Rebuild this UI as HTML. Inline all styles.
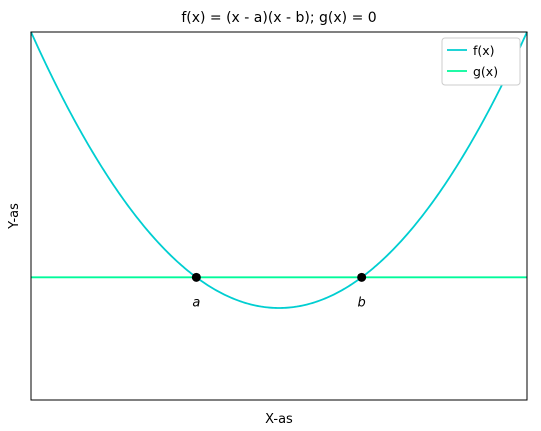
<!DOCTYPE html>
<html><head><meta charset="utf-8"><style>
body{margin:0;background:#fff;}
svg{display:block;font-family:"DejaVu Sans","Liberation Sans",sans-serif;}
</style></head><body>
<svg id="chart" width="541" height="431" viewBox="0 0 541 431" xmlns="http://www.w3.org/2000/svg">
<rect x="0" y="0" width="541" height="431" fill="#fff"/>
<text x="279" y="22" font-size="14" text-anchor="middle">f(x) = (x - a)(x - b); g(x) = 0</text>
<g id="plot"></g>
<rect x="31" y="32" width="496" height="368" fill="none" stroke="#000" stroke-width="1"/>
<text x="279" y="423" font-size="13" text-anchor="middle">X-as</text>
<text x="18" y="216" font-size="13" text-anchor="middle" transform="rotate(-90 18 216)">Y-as</text>
<g>
<rect x="442" y="38" width="78" height="47" rx="3" fill="#fff" stroke="#ccc"/>
<line x1="447" y1="50" x2="467" y2="50" stroke="#00ced1" stroke-width="1.8"/>
<text x="473" y="55" font-size="12.5">f(x)</text>
<line x1="447" y1="71" x2="467" y2="71" stroke="#00fa9a" stroke-width="1.8"/>
<text x="473" y="76" font-size="12.5">g(x)</text>
</g>
</svg>
<script>
const xDomain=[0,6];
const yDomain=[-4,8];
const roots=[2,4];
const rootLabels=["a","b"];
const gValue=[0];
const L=31,R=527,T=32,B=400;
const sx=v=>L+(v-xDomain[0])/(xDomain[1]-xDomain[0])*(R-L);
const sy=v=>B-(v-yDomain[0])/(yDomain[1]-yDomain[0])*(B-T);
const ns="http://www.w3.org/2000/svg";
const g=document.getElementById('plot');
function f(x){return (x-roots[0])*(x-roots[1]);}
let d="";
for(let i=0;i<=300;i++){const x=xDomain[0]+(xDomain[1]-xDomain[0])*i/300;d+=(i?"L":"M")+sx(x).toFixed(2)+","+sy(f(x)).toFixed(2);}
const p=document.createElementNS(ns,'path');


p.setAttribute('d',d);p.setAttribute('fill','none');p.setAttribute('stroke','#00ced1');p.setAttribute('stroke-width','1.8');
g.appendChild(p);
const ln=document.createElementNS(ns,'line');


ln.setAttribute('x1',sx(xDomain[0]));ln.setAttribute('x2',sx(xDomain[1]));
ln.setAttribute('y1',sy(gValue[0]));ln.setAttribute('y2',sy(gValue[0]));
ln.setAttribute('stroke','#00fa9a');ln.setAttribute('stroke-width','1.8');
g.appendChild(ln);
roots.forEach((r,i)=>{
 const c=document.createElementNS(ns,'circle');
 
 
 c.setAttribute('cx',sx(r));c.setAttribute('cy',sy(0));c.setAttribute('r','4.5');c.setAttribute('fill','#000');
 g.appendChild(c);
 const t=document.createElementNS(ns,'text');
 
 
 t.setAttribute('x',sx(r));t.setAttribute('y',sy(0)+29);t.setAttribute('font-size','13');
 t.setAttribute('font-style','italic');t.setAttribute('text-anchor','middle');
 t.textContent=rootLabels[i];
 g.appendChild(t);
});
</script>
</body></html>
